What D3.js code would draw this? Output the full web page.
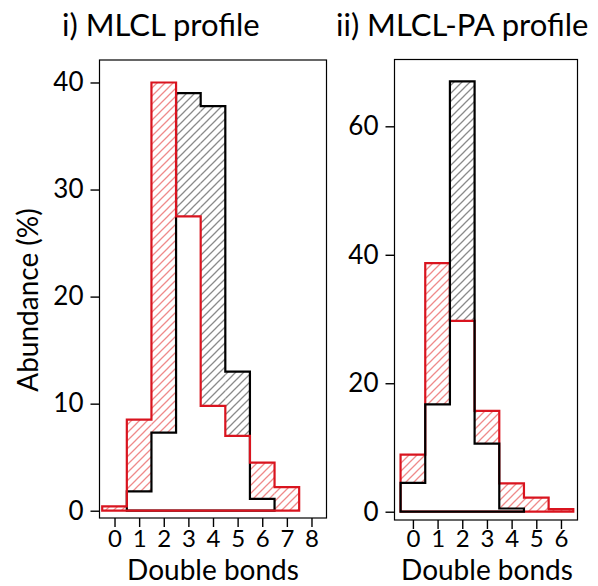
<!DOCTYPE html>
<html>
<head>
<meta charset="utf-8">
<script src="https://cdn.jsdelivr.net/npm/d3@7"></script>
<style>
  body { margin: 0; background: #fff; }
  text { font-family: Lato, "Open Sans", sans-serif; fill: #000; }
</style>
</head>
<body>
<svg id="chart" width="598" height="586"></svg>
<script>
// ---- data ----
var vnBins_MLCL = [0, 1, 2, 3, 4, 5, 6, 7];
var vfBlack_MLCL = [0, 1.8, 7.3, 39.0, 37.8, 13.0, 1.1, 0];
var vfRed_MLCL = [0.4, 8.5, 40.0, 27.5, 9.8, 7.0, 4.5, 2.2];
var vnTicksX_MLCL = [0, 1, 2, 3, 4, 5, 6, 7, 8];
var vnTicksY_MLCL = [0, 10, 20, 30, 40];

var vnBins_PA = [0, 1, 2, 3, 4, 5, 6];
var vfBlack_PA = [4.5, 16.7, 67.0, 10.6, 0.5, 0, 0];
var vfRed_PA = [8.9, 38.7, 29.7, 15.7, 4.4, 2.2, 0.4];
var vnTicksX_PA = [0, 1, 2, 3, 4, 5, 6];
var vnTicksY_PA = [0, 20, 40, 60];

var g_colorRed = "#d9141f";
var g_colorRedHatch = "#ef8a8a";
var g_colorGrayHatch = "#8a8a8a";

var svg = d3.select("#chart");

// hatch patterns
var defs = svg.append("defs");
function addHatch(id, color) {
	var p = defs.append("pattern")
		.attr("id", id)
		.attr("patternUnits", "userSpaceOnUse")
		.attr("width", 8)
		.attr("height", 8);
	p.append("path")
		.attr("d", "M-2,2 L2,-2 M0,8 L8,0 M6,10 L10,6")
		.attr("stroke", color)
		.attr("stroke-width", 1.3);
}
addHatch("hatchRed", g_colorRedHatch);
addHatch("hatchGray", g_colorGrayHatch);

// step outline path for one series, leading / trailing zeros trimmed
function stepPath(x, y, bins, vals) {
	var i0 = 0, i1 = vals.length - 1;
	while (i0 < i1 && vals[i0] == 0) i0++;
	while (i1 > i0 && vals[i1] == 0) i1--;
	var s = "M" + x(bins[i0] - 0.5) + "," + y(0);
	for (var i = i0; i <= i1; i++) {
		s += "L" + x(bins[i] - 0.5) + "," + y(vals[i]);
		s += "L" + x(bins[i] + 0.5) + "," + y(vals[i]);
	}
	s += "L" + x(bins[i1] + 0.5) + "," + y(0) + "Z";
	return s;
}

function drawPanel(opt) {
	var x = d3.scaleLinear().domain(opt.xDomain).range([opt.left, opt.right]);
	var y = d3.scaleLinear().domain(opt.yDomain).range([opt.bottom, opt.top]);
	var g = svg.append("g");

	// hatched difference between the two profiles
	g.selectAll("rect.diff")
		.data(opt.bins.map(function(b, i) { return { b: b, k: opt.black[i], r: opt.red[i] }; }))
		.enter()
		.append("rect")
			.attr("class", "diff")
			.attr("x", function(d) { return x(d.b - 0.5); })
			.attr("width", function(d) { return x(d.b + 0.5) - x(d.b - 0.5); })
			.attr("y", function(d) { return y(Math.max(d.k, d.r)); })
			.attr("height", function(d) { return y(Math.min(d.k, d.r)) - y(Math.max(d.k, d.r)); })
			.attr("fill", function(d) { return d.r > d.k ? "url(#hatchRed)" : "url(#hatchGray)"; });

	var pathBlack = stepPath(x, y, opt.bins, opt.black);
	var pathRed = stepPath(x, y, opt.bins, opt.red);
	var order = opt.blackOnTop ? [[pathRed, g_colorRed], [pathBlack, "#000"]]
	                           : [[pathBlack, "#000"], [pathRed, g_colorRed]];
	order.forEach(function(o) {
		g.append("path")
			.attr("d", o[0])
			.attr("fill", "none")
			.attr("stroke", o[1])
			.attr("stroke-width", 2.2)
			.attr("stroke-linejoin", "miter");
	});

	// frame
	g.append("rect")
		.attr("x", opt.left).attr("y", opt.top)
		.attr("width", opt.right - opt.left)
		.attr("height", opt.bottom - opt.top)
		.attr("fill", "none")
		.attr("stroke", "#000")
		.attr("stroke-width", 1.2);

	// axes (detached ticks, no domain line)
	var axX = g.append("g")
		.attr("transform", "translate(0," + opt.bottom + ")")
		.call(d3.axisBottom(x).tickValues(opt.ticksX).tickSize(9).tickPadding(opt.padX));
	axX.select(".domain").remove();
	axX.selectAll("line").attr("stroke-width", 1.4);
	axX.selectAll("text").attr("font-size", 24).attr("font-family", null);

	var axY = g.append("g")
		.attr("transform", "translate(" + opt.left + ",0)")
		.call(d3.axisLeft(y).tickValues(opt.ticksY).tickSize(9).tickPadding(7));
	axY.select(".domain").remove();
	axY.selectAll("line").attr("stroke-width", 1.4);
	axY.selectAll("text").attr("font-size", 26).attr("font-family", null);

	svg.append("text")
		.attr("x", opt.titleX).attr("y", 36)
		.attr("font-size", 31)
		.text(opt.title);

	svg.append("text")
		.attr("x", (x(opt.ticksX[0]) + x(opt.ticksX[opt.ticksX.length - 1])) / 2)
		.attr("y", 580)
		.attr("text-anchor", "middle")
		.attr("font-size", 28)
		.text("Double bonds");
}

drawPanel({
	title: "i) MLCL profile", titleX: 62,
	bins: vnBins_MLCL, black: vfBlack_MLCL, red: vfRed_MLCL,
	ticksX: vnTicksX_MLCL, ticksY: vnTicksY_MLCL,
	xDomain: [-0.61, 8.61], yDomain: [-0.68, 42.1],
	left: 99.5, right: 326.5, top: 60, bottom: 518,
	padX: 3, blackOnTop: false
});

drawPanel({
	title: "ii) MLCL-PA profile", titleX: 336,
	bins: vnBins_PA, black: vfBlack_PA, red: vfRed_PA,
	ticksX: vnTicksX_PA, ticksY: vnTicksY_PA,
	xDomain: [-0.746, 6.67], yDomain: [-1.29, 70.4],
	left: 394.5, right: 577.5, top: 59.5, bottom: 520,
	padX: 1, blackOnTop: true
});

svg.append("text")
	.attr("transform", "translate(38,300) rotate(-90)")
	.attr("text-anchor", "middle")
	.attr("font-size", 28)
	.text("Abundance (%)");
</script>
</body>
</html>
